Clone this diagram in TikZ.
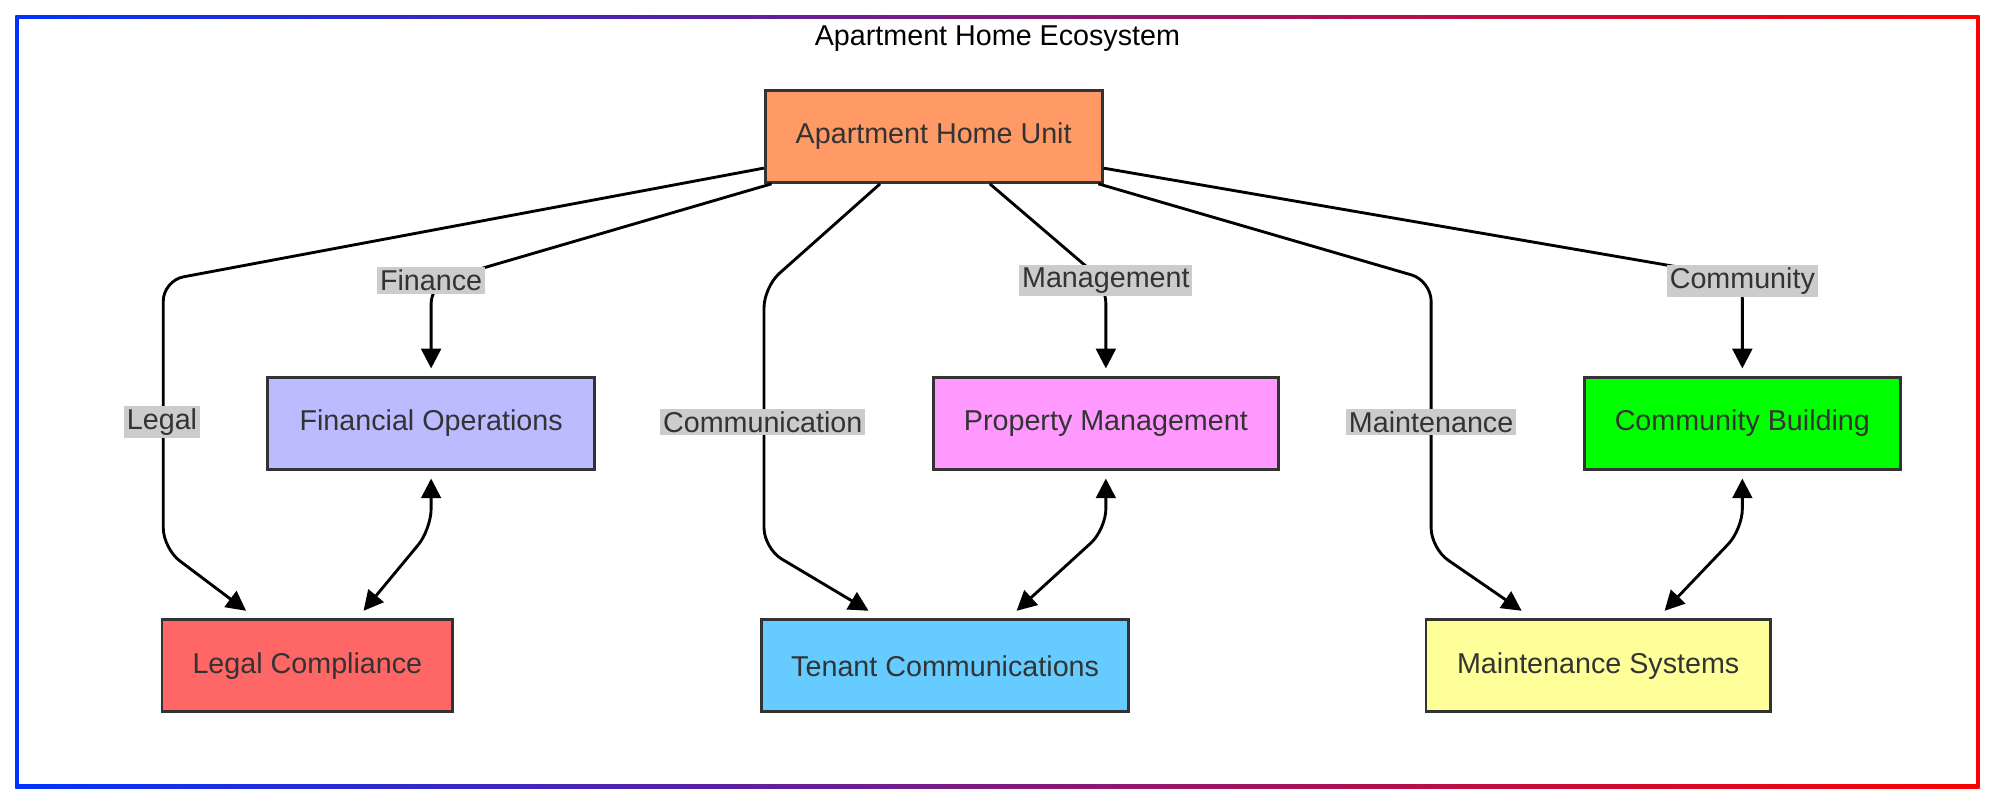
\documentclass[tikz,border=0pt]{standalone}
\usepackage{fontspec}
\setmainfont{Liberation Sans}
\usetikzlibrary{arrows.meta,calc}
\definecolor{unitc}{HTML}{FF9966}
\definecolor{finc}{HTML}{BBBBFF}
\definecolor{propc}{HTML}{FF99FF}
\definecolor{commc}{HTML}{00FF00}
\definecolor{legc}{HTML}{FF6666}
\definecolor{tenc}{HTML}{66CCFF}
\definecolor{mntc}{HTML}{FFFF99}
\definecolor{txt}{HTML}{333333}
\tikzset{
  box/.style={draw=txt, line width=1.6pt, minimum height=1.8cm, text=txt,
    font=\fontsize{16}{19}\selectfont},
  lbl/.style={fill=black!20, inner sep=1.5pt, text=txt, font=\fontsize{16}{19}\selectfont},
  link/.style={line width=1.6pt, rounded corners=0.4cm, -{Triangle[length=11pt,width=11pt]}},
  both/.style={link, {Triangle[length=11pt,width=11pt]}-{Triangle[length=11pt,width=11pt]}}
}
\begin{document}
\begin{tikzpicture}[x=0.025cm, y=-0.025cm]
  \useasboundingbox (0,0) rectangle (1568,633);
  % frame
  \shade[left color=blue!80!cyan, right color=red] (12,12) rectangle (1552,618);
  \fill[white] (15,15) rectangle (1549,615);
  \node[text=black, font=\fontsize{16}{19}\selectfont] (title) at (782,30) {Apartment Home Ecosystem};

  % nodes
  \node[box, fill=unitc, minimum width=6.6cm] (unit) at (732,107) {Apartment Home Unit};
  \node[box, fill=finc, minimum width=6.4cm] (fin) at (338,332) {Financial Operations};
  \node[box, fill=propc, minimum width=6.75cm] (prop) at (867,332) {Property Management};
  \node[box, fill=commc, minimum width=6.2cm] (comm) at (1366,332) {Community Building};
  \node[box, fill=legc, minimum width=5.7cm] (leg) at (241,522) {Legal Compliance};
  \node[box, fill=tenc, minimum width=7.2cm] (ten) at (741,522) {Tenant Communications};
  \node[box, fill=mntc, minimum width=6.75cm] (mnt) at (1253,522) {Maintenance Systems};

  % edges from the unit
  \draw[link] ([yshift=-0.62cm]unit.west) -- (128,220) -- (128,430) -- ([xshift=-1.2cm,yshift=0.15cm]leg.north);
  \draw[link] ([xshift=0.15cm]unit.south west) -- (338,222) -- ([yshift=0.15cm]fin.north);
  \draw[link] ([xshift=-1.05cm]unit.south) -- (599,225) -- (599,430) -- ([xshift=-1.5cm,yshift=0.15cm]ten.north);
  \draw[link] ([xshift=1.1cm]unit.south) -- (867,222) -- ([yshift=0.15cm]prop.north);
  \draw[link] ([xshift=-0.1cm]unit.south east) -- (1122,220) -- (1122,430) -- ([xshift=-1.5cm,yshift=0.15cm]mnt.north);
  \draw[link] ([yshift=-0.62cm]unit.east) -- (1366,218) -- ([yshift=0.15cm]comm.north);

  % labels
  \node[lbl] (lleg) at (127,331) {Legal};
  \node[lbl] (lfin) at (338,220) {Finance};
  \node[lbl] (lten) at (598,331) {Communication};
  \node[lbl] (lprop) at (867,220) {Management};
  \node[lbl] (lmnt) at (1122,331) {Maintenance};
  \node[lbl] (lcomm) at (1366,220) {Community};

  % two-way links
  \draw[both] ([yshift=-0.15cm]fin.south) -- (338,415) -- ([xshift=1.1cm,yshift=0.15cm]leg.north);
  \draw[both] ([yshift=-0.15cm]prop.south) -- (867,415) -- ([xshift=1.4cm,yshift=0.15cm]ten.north);
  \draw[both] ([yshift=-0.15cm]comm.south) -- (1366,415) -- ([xshift=1.3cm,yshift=0.15cm]mnt.north);
\end{tikzpicture}
\end{document}
